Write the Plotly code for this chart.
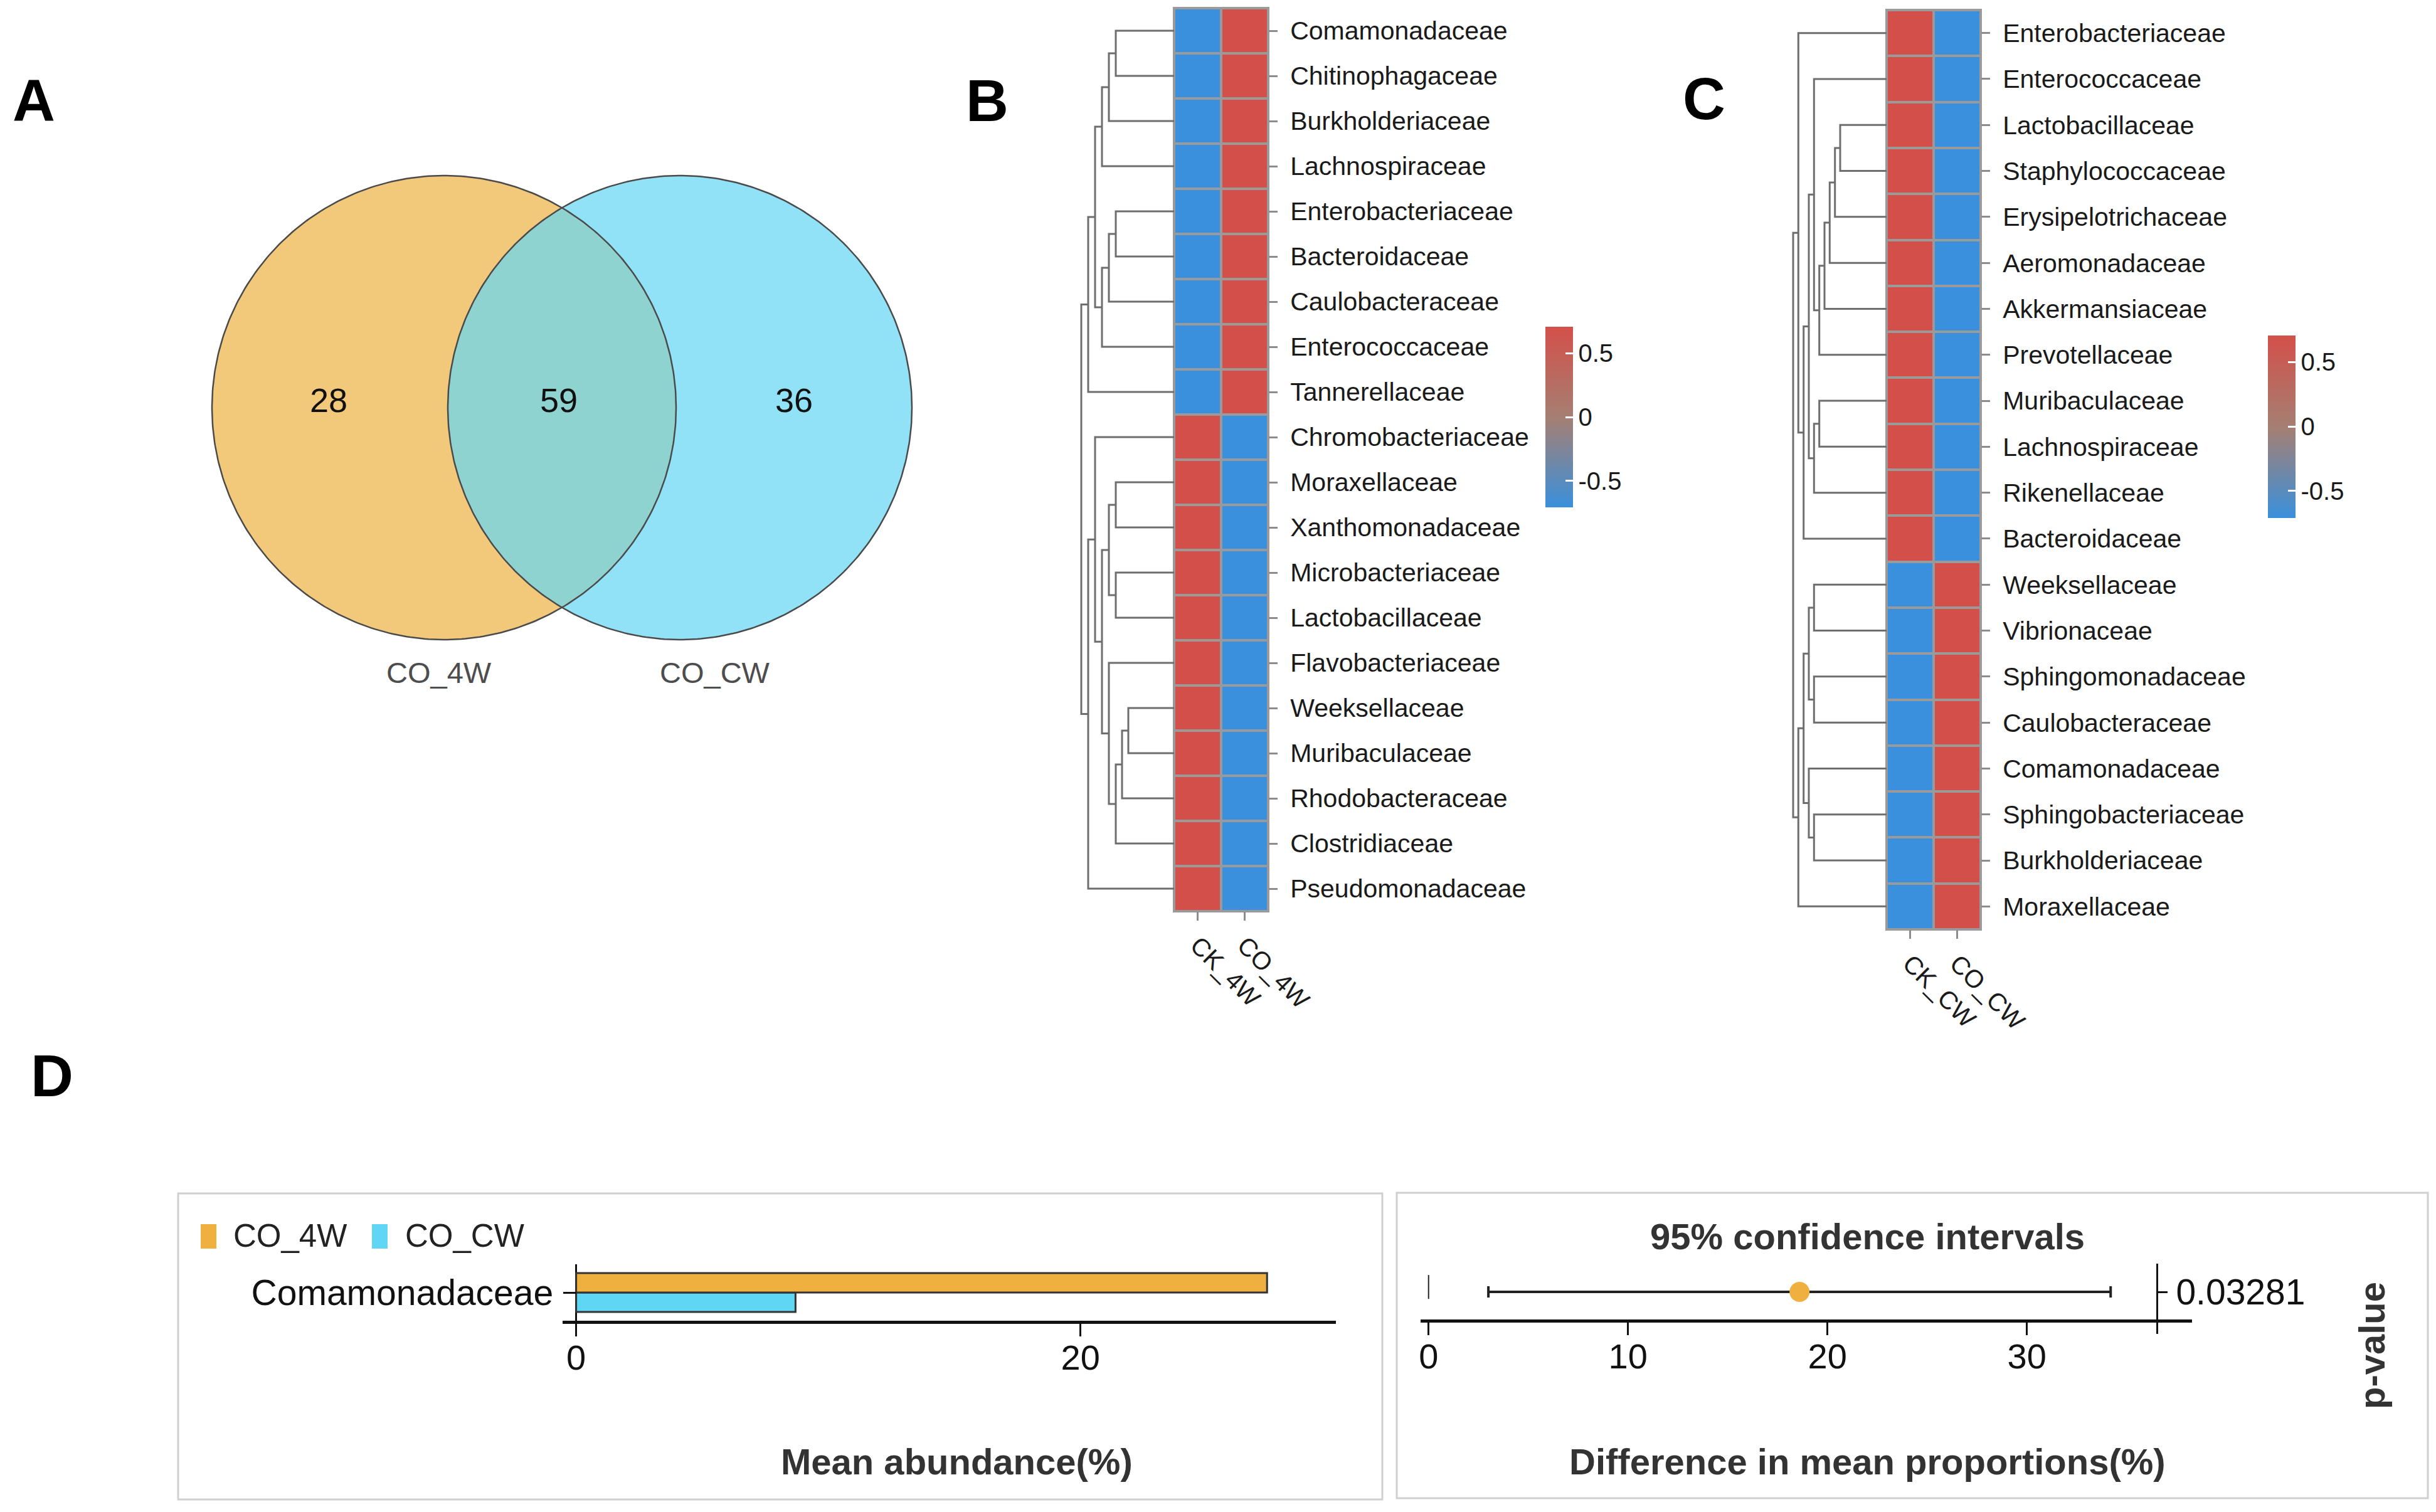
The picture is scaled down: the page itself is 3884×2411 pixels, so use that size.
import numpy as np
import plotly.graph_objects as go

# ------------------------------------------------------------------ data
VENN_SETS = ["CO_4W", "CO_CW"]
VENN_COUNTS = [28, 59, 36]          # only CO_4W, shared, only CO_CW

B_COLUMNS = ["CK_4W", "CO_4W"]
B_FAMILIES = ["Comamonadaceae", "Chitinophagaceae", "Burkholderiaceae", "Lachnospiraceae",
              "Enterobacteriaceae", "Bacteroidaceae", "Caulobacteraceae", "Enterococcaceae",
              "Tannerellaceae", "Chromobacteriaceae", "Moraxellaceae", "Xanthomonadaceae",
              "Microbacteriaceae", "Lactobacillaceae", "Flavobacteriaceae", "Weeksellaceae",
              "Muribaculaceae", "Rhodobacteraceae", "Clostridiaceae", "Pseudomonadaceae"]
B_CK_4W = [-0.707, -0.707, -0.707, -0.707, -0.707, -0.707, -0.707, -0.707, -0.707,
           0.707, 0.707, 0.707, 0.707, 0.707, 0.707, 0.707, 0.707, 0.707, 0.707, 0.707]
B_CO_4W = [0.707, 0.707, 0.707, 0.707, 0.707, 0.707, 0.707, 0.707, 0.707,
           -0.707, -0.707, -0.707, -0.707, -0.707, -0.707, -0.707, -0.707, -0.707, -0.707, -0.707]
# hierarchical clustering merges: (child a, child b, height); leaves 0..19, clusters 20+
B_MERGES = [(0, 1, 0.93), (20, 2, 1.04), (21, 3, 1.15), (4, 5, 0.93), (23, 6, 1.04),
            (24, 7, 1.15), (22, 25, 1.26), (26, 8, 1.37), (10, 11, 0.93), (12, 13, 0.93),
            (28, 29, 1.04), (15, 16, 0.73), (31, 17, 0.83), (32, 18, 0.93), (14, 33, 1.04),
            (30, 34, 1.15), (9, 35, 1.26), (36, 19, 1.37), (27, 37, 1.48)]

C_COLUMNS = ["CK_CW", "CO_CW"]
C_FAMILIES = ["Enterobacteriaceae", "Enterococcaceae", "Lactobacillaceae", "Staphylococcaceae",
              "Erysipelotrichaceae", "Aeromonadaceae", "Akkermansiaceae", "Prevotellaceae",
              "Muribaculaceae", "Lachnospiraceae", "Rikenellaceae", "Bacteroidaceae",
              "Weeksellaceae", "Vibrionaceae", "Sphingomonadaceae", "Caulobacteraceae",
              "Comamonadaceae", "Sphingobacteriaceae", "Burkholderiaceae", "Moraxellaceae"]
C_CK_CW = [0.707, 0.707, 0.707, 0.707, 0.707, 0.707, 0.707, 0.707, 0.707, 0.707, 0.707, 0.707,
           -0.707, -0.707, -0.707, -0.707, -0.707, -0.707, -0.707, -0.707]
C_CO_CW = [-0.707, -0.707, -0.707, -0.707, -0.707, -0.707, -0.707, -0.707, -0.707, -0.707, -0.707, -0.707,
           0.707, 0.707, 0.707, 0.707, 0.707, 0.707, 0.707, 0.707]
C_MERGES = [(2, 3, 0.74), (20, 4, 0.823), (21, 5, 0.907), (22, 6, 0.99), (23, 7, 1.073),
            (1, 24, 1.157), (8, 9, 1.073), (26, 10, 1.157), (25, 27, 1.24), (28, 11, 1.323),
            (0, 29, 1.407), (12, 13, 1.157), (14, 15, 1.157), (31, 32, 1.24), (17, 18, 1.157),
            (16, 34, 1.24), (33, 35, 1.323), (36, 19, 1.407), (30, 37, 1.49)]

D_FAMILY = ["Comamonadaceae"]
D_GROUPS = ["CO_4W", "CO_CW"]
D_MEAN_CO_4W = [27.4]
D_MEAN_CO_CW = [8.7]
D_DIFF = [18.6]
D_CI_LOW = [3.0]
D_CI_HIGH = [34.2]
D_PVALUE = ["0.03281"]

# ------------------------------------------------------------------ layout helpers
W, H = 3884, 2411
FONT = "Liberation Sans, Arial, Helvetica, sans-serif"
ORANGE = "#EFB040"
CYAN = "#5FD6F4"
GRID_GREY = "#9A9A9A"
HEAT_SCALE = [[0.0, "#3A90DC"], [0.5, "#A67F72"], [1.0, "#D3504A"]]


def dx(a, b):
    return [a / W, b / W]


def dy(top, bottom):
    return [1 - bottom / H, 1 - top / H]


def pxx(x):
    return x / W


def pxy(y):
    return 1 - y / H


def dendro_path(merges, n):
    pos = {i: float(i) for i in range(n)}
    hgt = {i: 0.0 for i in range(n)}
    xs, ys = [], []
    for k, (a, b, h) in enumerate(merges):
        node = n + k
        xs += [hgt[a], h, h, hgt[b], None]
        ys += [pos[a], pos[a], pos[b], pos[b], None]
        pos[node] = (pos[a] + pos[b]) / 2
        hgt[node] = h
    return xs, ys


def note(text, x, y, size, color="#111111", bold=False, xanchor="center", angle=0):
    font = dict(size=size, color=color, family=FONT)
    if bold:
        font["weight"] = "bold"
    return dict(x=pxx(x), y=pxy(y), xref="paper", yref="paper", text=text, showarrow=False,
                xanchor=xanchor, yanchor="middle", textangle=angle, font=font)


fig = go.Figure()
shapes = []
annotations = []

# ------------------------------------------------------------------ Panel A (Venn)
CX_L, CX_R, CY, R = 708.0, 1084.0, 650.0, 370.0
t = np.linspace(0, 2 * np.pi, 400)
for cx, col in ((CX_L, "#F2C97B"), (CX_R, "#91E1F7")):
    fig.add_trace(go.Scatter(x=cx + R * np.cos(t), y=CY + R * np.sin(t), mode="lines",
                             fill="toself", fillcolor=col, line=dict(width=0),
                             xaxis="x", yaxis="y", hoverinfo="skip"))
half = (CX_R - CX_L) / 2
a = np.arccos(half / R)
ta = np.linspace(-a, a, 120)
tb = np.linspace(np.pi - a, np.pi + a, 120)
lens_x = np.concatenate([CX_L + R * np.cos(ta), CX_R + R * np.cos(tb)])
lens_y = np.concatenate([CY + R * np.sin(ta), CY + R * np.sin(tb)])
fig.add_trace(go.Scatter(x=lens_x, y=lens_y, mode="lines", fill="toself", fillcolor="#8FD3D0",
                         line=dict(width=0), xaxis="x", yaxis="y", hoverinfo="skip"))
for cx in (CX_L, CX_R):
    fig.add_trace(go.Scatter(x=cx + R * np.cos(t), y=CY + R * np.sin(t), mode="lines",
                             line=dict(color="#4A4A4A", width=2.5), xaxis="x", yaxis="y",
                             hoverinfo="skip"))
for val, xx in zip(VENN_COUNTS, (524, 891, 1266)):
    annotations.append(dict(x=xx, y=638, xref="x", yref="y", text=str(val), showarrow=False,
                            xanchor="center", yanchor="middle",
                            font=dict(size=54, color="#111111", family=FONT)))
for name, xx in zip(VENN_SETS, (700, 1140)):
    annotations.append(dict(x=xx, y=1072, xref="x", yref="y", text=name, showarrow=False,
                            xanchor="center", yanchor="middle",
                            font=dict(size=47, color="#4D4D4D", family=FONT)))

# ------------------------------------------------------------------ Panels B & C (heatmaps)
def heat_panel(fam, cols, v1, v2, merges, xd, xh, yax, x_left, x_right, top, bottom,
               cb_x, cb_y, cb_len):
    n = len(fam)
    xs, ys = dendro_path(merges, n)
    fig.add_trace(go.Scatter(x=xs, y=ys, mode="lines", line=dict(color="#6E6E6E", width=3),
                             xaxis=xd, yaxis=yax, hoverinfo="skip"))
    z = [[p, q] for p, q in zip(v1, v2)]
    fig.add_trace(go.Heatmap(z=z, x=[0, 1], y=list(range(n)), colorscale=HEAT_SCALE,
                             zmin=-0.7071, zmax=0.7071, xgap=4, ygap=4,
                             xaxis=xh, yaxis=yax, hoverinfo="skip",
                             colorbar=dict(x=pxx(cb_x), xanchor="left", xpad=0,
                                           y=pxy(cb_y), yanchor="middle", ypad=0,
                                           len=cb_len, lenmode="pixels", thickness=44,
                                           thicknessmode="pixels", outlinewidth=0,
                                           tickvals=[-0.5, 0, 0.5], ticktext=["-0.5", "0", "0.5"],
                                           ticks="inside", ticklen=12, tickwidth=3,
                                           tickcolor="white",
                                           tickfont=dict(size=40, color="#1A1A1A", family=FONT))))
    shapes.append(dict(type="rect", xref="paper", yref="paper", layer="below",
                       x0=pxx(x_left - 2), x1=pxx(x_right + 2), y0=pxy(bottom + 2), y1=pxy(top - 2),
                       fillcolor=GRID_GREY, line=dict(width=0)))
    return n


nB = heat_panel(B_FAMILIES, B_COLUMNS, B_CK_4W, B_CO_4W, B_MERGES, "x2", "x3", "y2",
                1872, 2022, 13, 1453, 2464, 665, 288)
nC = heat_panel(C_FAMILIES, C_COLUMNS, C_CK_CW, C_CO_CW, C_MERGES, "x4", "x5", "y4",
                3008, 3158, 16, 1482, 3616, 680, 291)

# ------------------------------------------------------------------ Panel D left (bars)
fig.add_trace(go.Bar(y=D_FAMILY, x=D_MEAN_CO_CW, orientation="h", name=D_GROUPS[1],
                     marker=dict(color=CYAN, line=dict(color="#333333", width=3)),
                     xaxis="x6", yaxis="y6", hoverinfo="skip"))
fig.add_trace(go.Bar(y=D_FAMILY, x=D_MEAN_CO_4W, orientation="h", name=D_GROUPS[0],
                     marker=dict(color=ORANGE, line=dict(color="#333333", width=3)),
                     xaxis="x6", yaxis="y6", hoverinfo="skip"))

# ------------------------------------------------------------------ Panel D right (CI)
err_plus = [h - d for h, d in zip(D_CI_HIGH, D_DIFF)]
err_minus = [d - l for d, l in zip(D_DIFF, D_CI_LOW)]
fig.add_trace(go.Scatter(x=D_DIFF, y=[0], mode="markers",
                         marker=dict(color=ORANGE, size=32),
                         error_x=dict(type="data", array=err_plus, arrayminus=err_minus,
                                      color="#222222", thickness=4, width=9),
                         xaxis="x7", yaxis="y7", hoverinfo="skip"))
shapes.append(dict(type="line", xref="x7", yref="y7", x0=0, x1=0, y0=-0.1, y1=0.24,
                   line=dict(color="#222222", width=2)))

# ------------------------------------------------------------------ text & frames
for txt, x, y in (("A", 54, 161), ("B", 1574, 160), ("C", 2717, 157), ("D", 83, 1715)):
    annotations.append(note(txt, x, y, 94, color="#000000", bold=True))

for x0, y0, x1, y1 in ((284, 1903, 2204, 2391), (2227, 1902, 3871, 2389)):
    shapes.append(dict(type="rect", xref="paper", yref="paper", x0=pxx(x0), x1=pxx(x1),
                       y0=pxy(y1), y1=pxy(y0), line=dict(color="#D0D0D0", width=3),
                       fillcolor="rgba(0,0,0,0)", layer="below"))

# legend of panel D
for (x0, x1), col, name, tx in (((320, 345), ORANGE, D_GROUPS[0], 370),
                                ((593, 618), CYAN, D_GROUPS[1], 644)):
    shapes.append(dict(type="rect", xref="paper", yref="paper", x0=pxx(x0), x1=pxx(x1),
                       y0=pxy(1991), y1=pxy(1952), fillcolor=col, line=dict(width=0)))
    annotations.append(note(name, tx, 1970, 51, color="#222222", xanchor="left"))

annotations.append(note("Mean abundance(%)", 1525, 2330, 58, color="#333333", bold=True))
annotations.append(note("Difference in mean proportions(%)", 2977, 2330, 58, color="#333333",
                        bold=True))
annotations.append(note("95% confidence intervals", 2977, 1972, 58, color="#333333", bold=True))
annotations.append(note("p-value", 3781, 2146, 58, color="#333333", bold=True, angle=-90))

# ------------------------------------------------------------------ axes
hidden = dict(visible=False, showgrid=False, zeroline=False)
row_axis = dict(showgrid=False, zeroline=False, side="right", ticks="outside", ticklen=14,
                tickwidth=3, tickcolor="#8C8C8C", showline=False, automargin=False,
                tickfont=dict(size=41, color="#1A1A1A", family=FONT), ticklabelstandoff=12)
col_axis = dict(showgrid=False, zeroline=False, ticks="outside", ticklen=14, tickwidth=3,
                tickcolor="#8C8C8C", tickangle=45, range=[-0.5, 1.5], tickvals=[0, 1],
                automargin=False,
                tickfont=dict(size=40, color="#1A1A1A", family=FONT), showline=False)

fig.update_layout(
    width=W, height=H, autosize=False,
    margin=dict(l=0, r=0, t=0, b=0, pad=0, autoexpand=False),
    paper_bgcolor="white", plot_bgcolor="white", showlegend=False, hovermode=False,
    barmode="group", bargap=0.31, bargroupgap=0,
    font=dict(family=FONT),
    xaxis=dict(domain=dx(0, 1500), range=[0, 1500], anchor="y", **hidden),
    yaxis=dict(domain=dy(0, 1150), range=[1150, 0], anchor="x", **hidden),
    # B
    xaxis2=dict(domain=dx(1718, 1872), range=[1.54, 0], anchor="y2", **hidden),
    xaxis3=dict(domain=dx(1872, 2022), anchor="y2", ticktext=B_COLUMNS, **col_axis),
    yaxis2=dict(domain=dy(13, 1453), range=[nB - 0.5, -0.5], anchor="x3",
                tickvals=list(range(nB)), ticktext=B_FAMILIES, **row_axis),
    # C
    xaxis4=dict(domain=dx(2854, 3008), range=[1.54, 0], anchor="y4", **hidden),
    xaxis5=dict(domain=dx(3008, 3158), anchor="y4", ticktext=C_COLUMNS, **col_axis),
    yaxis4=dict(domain=dy(16, 1482), range=[nC - 0.5, -0.5], anchor="x5",
                tickvals=list(range(nC)), ticktext=C_FAMILIES, **row_axis),
    # D bars
    xaxis6=dict(domain=dx(897, 2130), range=[-0.537, 30.13], anchor="y6", showgrid=False,
                showline=True, linecolor="#111111", linewidth=5, ticks="outside", ticklen=20,
                tickwidth=3, tickcolor="#111111", tickvals=[0, 20], automargin=False,
                zeroline=True, zerolinecolor="#111111", zerolinewidth=3,
                tickfont=dict(size=56, color="#111111", family=FONT), ticklabelstandoff=-14),
    yaxis6=dict(domain=dy(2016, 2106), range=[-0.5, 0.5], anchor="free", position=pxx(918.6),
                type="category", showgrid=False, zeroline=False, showline=False,
                ticks="outside", ticklen=21, tickwidth=3, tickcolor="#111111", automargin=False,
                tickfont=dict(size=57, color="#111111", family=FONT), ticklabelstandoff=4),
    # D CI
    xaxis7=dict(domain=dx(2265, 3495), range=[-0.4, 38.28], anchor="free", position=pxy(2106),
                showgrid=False, zeroline=False, showline=True, linecolor="#111111", linewidth=5,
                ticks="outside", ticklen=20, tickwidth=3, tickcolor="#111111",
                tickvals=[0, 10, 20, 30], automargin=False,
                tickfont=dict(size=56, color="#111111", family=FONT), ticklabelstandoff=-14),
    yaxis7=dict(domain=dy(2015, 2127), range=[-0.598, 0.402], anchor="free", position=pxx(3439),
                side="right", showgrid=False, zeroline=False, showline=True, linecolor="#111111",
                linewidth=3, ticks="outside", ticklen=15, tickwidth=3, tickcolor="#111111",
                tickvals=[0], ticktext=D_PVALUE, automargin=False,
                tickfont=dict(size=57, color="#111111", family=FONT), ticklabelstandoff=2),
    shapes=shapes, annotations=annotations,
)

fig.write_html("out.html", config={"displayModeBar": False},
               post_script="document.body.style.margin='0px';document.body.style.overflow='hidden';")
